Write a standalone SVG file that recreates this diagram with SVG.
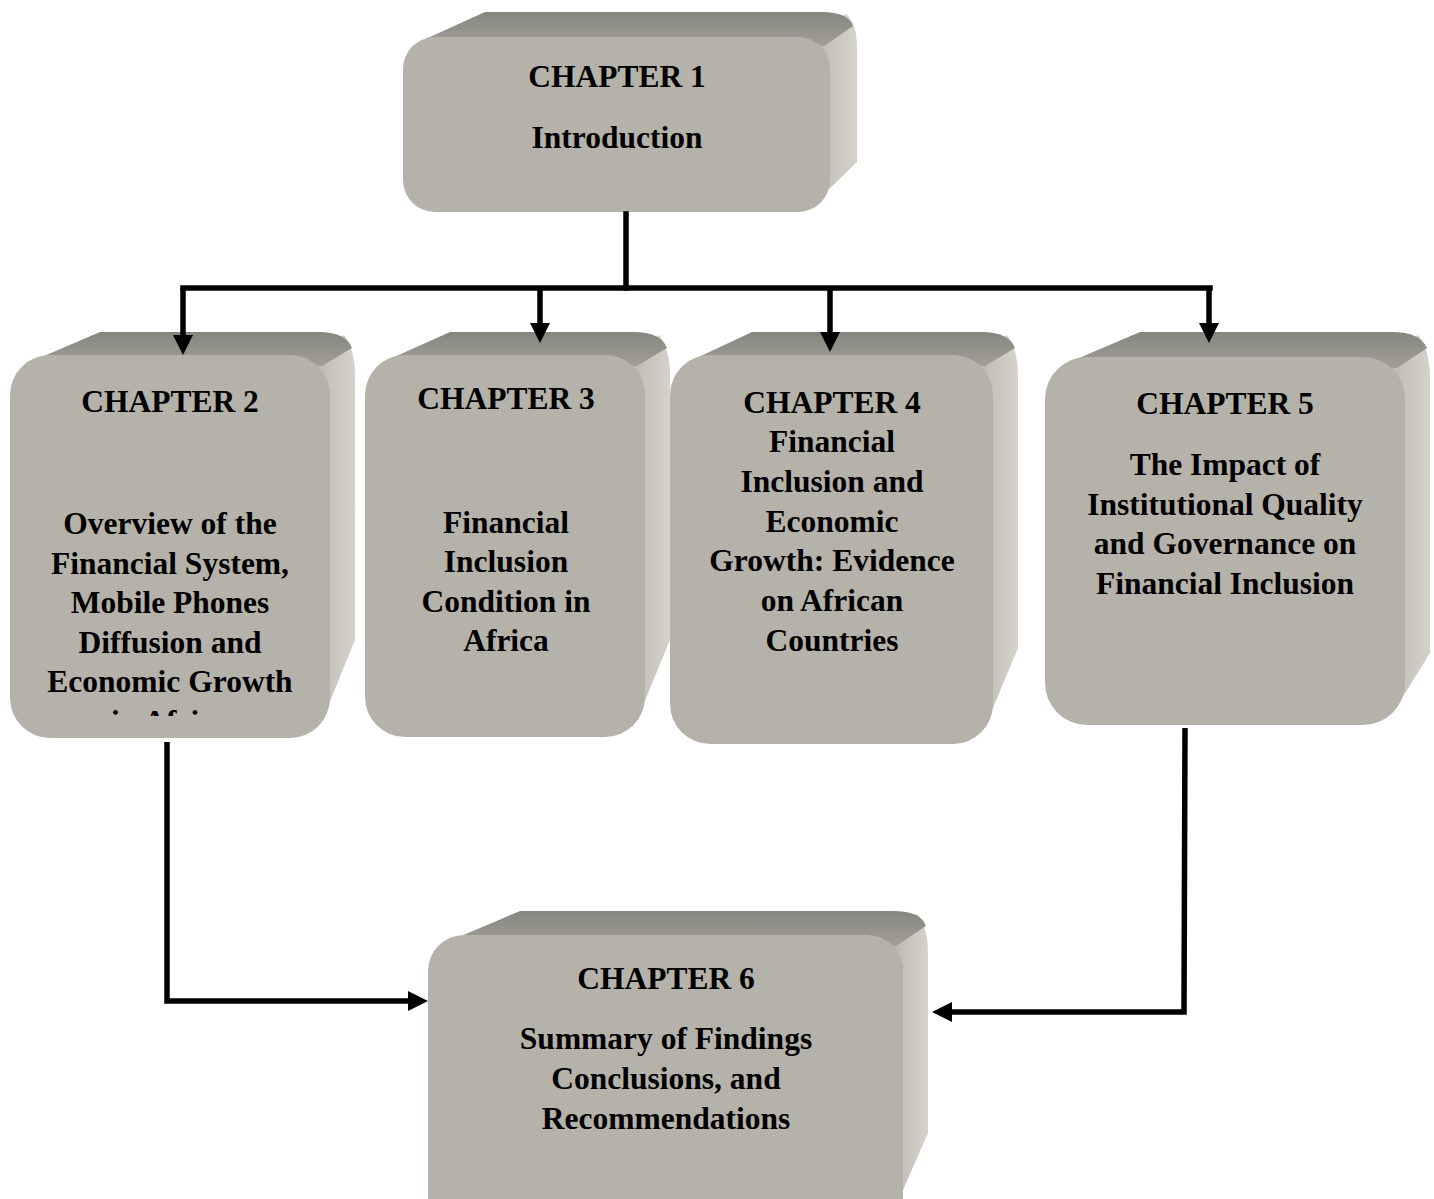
<svg xmlns="http://www.w3.org/2000/svg" width="1434" height="1199" viewBox="0 0 1434 1199">
  <defs>
    <style>
      .front { fill: #b5b2aa; }
      .top { fill: url(#gTop); }
      .side { fill: url(#gSide); }
      .t { font-family: "Liberation Serif", "Times New Roman", serif; font-weight: bold; font-size: 31.5px; fill: #000; text-anchor: middle; }
      .wire { fill: none; stroke: #000; stroke-width: 5.5; stroke-linecap: square; }
      .arrow { fill: none; stroke: #000; stroke-width: 5.5; stroke-linecap: butt; stroke-linejoin: miter; }
    </style>
    <linearGradient id="gTop" x1="0" y1="0" x2="0" y2="1">
      <stop offset="0" stop-color="#86857f"/>
      <stop offset="1" stop-color="#a19f98"/>
    </linearGradient>
    <linearGradient id="gSide" x1="0" y1="0" x2="1" y2="0">
      <stop offset="0" stop-color="#a9a7a0"/>
      <stop offset="0.55" stop-color="#c6c4bc"/>
      <stop offset="1" stop-color="#d4d2ca"/>
    </linearGradient>
    <marker id="head" viewBox="0 -10 20 20" refX="0" refY="0" markerWidth="20" markerHeight="20" markerUnits="userSpaceOnUse" orient="auto">
      <path d="M0,-10 L20,0 L0,10 Z" fill="#000"/>
    </marker>
    <clipPath id="clip2">
      <rect x="10" y="355" width="320" height="361"/>
    </clipPath>
  </defs>

  <!-- Chapter 1 -->
  <g id="ch1">
    <path class="side" d="M812 40 L846 14 Q857 24 857 47 L857 162 L824 194 L800 194 Z"/>
    <path class="top" d="M421 41 L485 12 L822 12 Q848 12 853 26 L824 46 L421 46 Z"/>
    <rect class="front" x="403" y="37" width="427" height="175" rx="32"/>
    <text class="t" x="617" y="87">CHAPTER 1</text>
    <text class="t" x="617" y="148">Introduction</text>
  </g>

  <!-- Chapter 2 -->
  <g id="ch2">
    <path class="side" d="M310 358 L344 335 Q355 350 355 375 L355 640 L324 716 L300 716 Z"/>
    <path class="top" d="M30 362 L100 332 L318 332 Q346 332 352 348 L322 366 L30 366 Z"/>
    <rect class="front" x="10" y="355" width="320" height="383" rx="40"/>
    <text class="t" x="170" y="412">CHAPTER 2</text>
    <text class="t" x="170" y="534">Overview of the</text>
    <text class="t" x="170" y="574">Financial System,</text>
    <text class="t" x="170" y="613">Mobile Phones</text>
    <text class="t" x="170" y="653">Diffusion and</text>
    <text class="t" x="170" y="692">Economic Growth</text>
    <text class="t" x="170" y="732" clip-path="url(#clip2)">in Africa</text>
  </g>

  <!-- Chapter 3 -->
  <g id="ch3">
    <path class="side" d="M625 358 L659 335 Q670 350 670 375 L670 640 L639 715 L615 715 Z"/>
    <path class="top" d="M383 362 L450 332 L633 332 Q661 332 667 348 L637 366 L383 366 Z"/>
    <rect class="front" x="365" y="355" width="280" height="382" rx="40"/>
    <text class="t" x="506" y="409">CHAPTER 3</text>
    <text class="t" x="506" y="533">Financial</text>
    <text class="t" x="506" y="572">Inclusion</text>
    <text class="t" x="506" y="612">Condition in</text>
    <text class="t" x="506" y="651">Africa</text>
  </g>

  <!-- Chapter 4 -->
  <g id="ch4">
    <path class="side" d="M973 358 L1007 335 Q1018 350 1018 375 L1018 648 L987 722 L963 722 Z"/>
    <path class="top" d="M688 362 L752 332 L981 332 Q1009 332 1015 348 L985 366 L688 366 Z"/>
    <rect class="front" x="670" y="355" width="323" height="389" rx="40"/>
    <text class="t" x="832" y="413">CHAPTER 4</text>
    <text class="t" x="832" y="452">Financial</text>
    <text class="t" x="832" y="492">Inclusion and</text>
    <text class="t" x="832" y="532">Economic</text>
    <text class="t" x="832" y="571">Growth: Evidence</text>
    <text class="t" x="832" y="611">on African</text>
    <text class="t" x="832" y="651">Countries</text>
  </g>

  <!-- Chapter 5 -->
  <g id="ch5">
    <path class="side" d="M1385 360 L1418 335 Q1430 350 1430 378 L1430 653 L1399 703 L1375 703 Z"/>
    <path class="top" d="M1065 364 L1140 332 L1392 332 Q1420 332 1427 348 L1397 368 L1065 368 Z"/>
    <rect class="front" x="1045" y="357" width="360" height="368" rx="42"/>
    <text class="t" x="1225" y="414">CHAPTER 5</text>
    <text class="t" x="1225" y="475">The Impact of</text>
    <text class="t" x="1225" y="515">Institutional Quality</text>
    <text class="t" x="1225" y="554">and Governance on</text>
    <text class="t" x="1225" y="594">Financial Inclusion</text>
  </g>

  <!-- Chapter 6 -->
  <g id="ch6">
    <path class="side" d="M883 938 L917 914 Q928 928 928 952 L928 1133 L903 1190 L880 1190 Z"/>
    <path class="top" d="M447 942 L520 911 L893 911 Q921 911 926 926 L896 946 L447 946 Z"/>
    <rect class="front" x="428" y="935" width="475" height="300" rx="36"/>
    <text class="t" x="666" y="989">CHAPTER 6</text>
    <text class="t" x="666" y="1049">Summary of Findings</text>
    <text class="t" x="666" y="1089">Conclusions, and</text>
    <text class="t" x="666" y="1129">Recommendations</text>
  </g>

  <!-- Connectors -->
  <g id="connectors">
    <path class="wire" d="M626 214 L626 288"/>
    <path class="wire" d="M183 288 L1210 288"/>
    <path class="arrow" d="M183 288 L183 335" marker-end="url(#head)"/>
    <path class="arrow" d="M540 288 L540 323" marker-end="url(#head)"/>
    <path class="arrow" d="M830 288 L830 332" marker-end="url(#head)"/>
    <path class="arrow" d="M1209 288 L1209 323" marker-end="url(#head)"/>
    <path class="arrow" d="M167 742 L167 1001 L408 1001" marker-end="url(#head)"/>
    <path class="arrow" d="M1185 728 L1184 1012 L952 1012" marker-end="url(#head)"/>
  </g>
</svg>
